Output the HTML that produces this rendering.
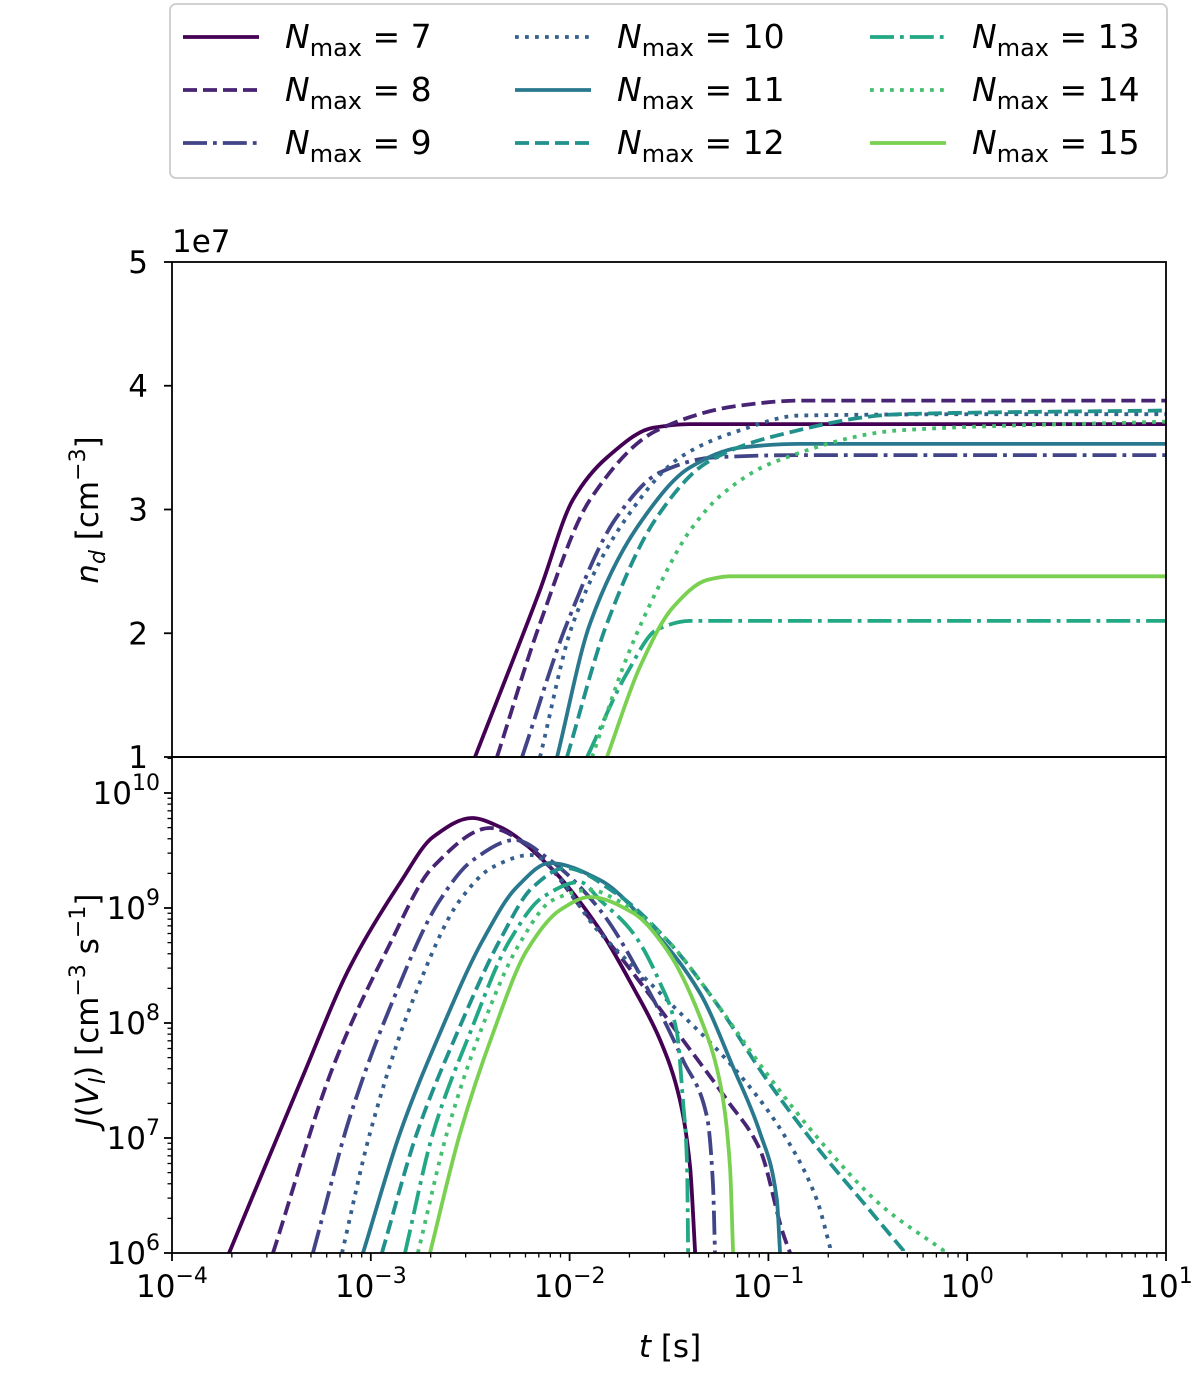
<!DOCTYPE html>
<html><head><meta charset="utf-8"><style>
body{margin:0;background:#fff;}
svg text{font-family:"DejaVu Sans","Liberation Sans",sans-serif;fill:#000;}
</style></head><body>
<svg id="chart" width="1200" height="1368" xmlns="http://www.w3.org/2000/svg"></svg>
<script>
// ---- data ----
const seriesNames = ['7','8','9','10','11','12','13','14','15'];
const seriesColors = ['#440154','#482475','#414487','#355f8d','#2a788e','#21918c','#22a884','#44bf70','#7ad151'];
const seriesStyles = ['solid','dashed','dashdot','dotted','solid','dashed','dashdot','dotted','solid'];
// top panel: log10(t) and n_d (units of 1e7)
const ndLogT = [
 [-2.476,-2.149,-1.983,-1.812,-1.580,-1.394,1.0],
 [-2.365,-2.149,-1.897,-1.560,-1.143,-0.841,1.0],
 [-2.239,-2.013,-1.762,-1.545,-1.279,-0.841,1.0],
 [-2.149,-1.983,-1.711,-1.445,-1.143,-0.841,0.165,1.0],
 [-2.063,-1.897,-1.646,-1.394,-1.143,-0.841,1.0],
 [-2.013,-1.812,-1.560,-1.309,-0.977,-0.338,1.0],
 [-1.912,-1.711,-1.560,-1.394,1.0],
 [-1.887,-1.711,-1.560,-1.394,-1.228,-0.977,-0.338,1.0],
 [-1.812,-1.646,-1.480,-1.309,-1.193,1.0]
];
const ndValues = [
 [1,2.35,3.08,3.42,3.66,3.69,3.69],
 [1,2.08,3.08,3.64,3.84,3.88,3.88],
 [1,2.08,2.94,3.30,3.42,3.44,3.44],
 [1,2.08,2.94,3.42,3.64,3.76,3.77,3.77],
 [1,2.08,2.89,3.34,3.50,3.53,3.53],
 [1,2.08,2.94,3.38,3.59,3.77,3.80],
 [1,1.68,2.03,2.10,2.10],
 [1,1.81,2.35,2.83,3.13,3.38,3.64,3.71],
 [1,1.73,2.21,2.43,2.46,2.46]
];
// bottom panel: log10(t) and log10(J)
const jLogT = [
 [-3.713,-3.356,-3.105,-2.853,-2.687,-2.491,-2.350,-2.099,-1.847,-1.681,-1.545,-1.445,-1.394,-1.369],
 [-3.492,-3.190,-2.919,-2.687,-2.400,-2.184,-1.933,-1.681,-1.430,-1.208,-1.042,-0.927,-0.891],
 [-3.291,-3.105,-2.888,-2.652,-2.486,-2.275,-2.099,-1.847,-1.596,-1.430,-1.309,-1.279,-1.269],
 [-3.145,-3.004,-2.788,-2.551,-2.385,-2.199,-1.847,-1.510,-1.178,-0.927,-0.756,-0.690],
 [-3.039,-2.853,-2.652,-2.436,-2.265,-2.099,-1.847,-1.596,-1.344,-1.178,-1.042,-0.957,-0.942],
 [-2.944,-2.768,-2.566,-2.350,-2.184,-2.023,-1.762,-1.510,-1.259,-1.007,-0.756,-0.504,-0.323],
 [-2.828,-2.687,-2.501,-2.300,-2.134,-1.948,-1.847,-1.681,-1.545,-1.460,-1.430,-1.409,-1.404],
 [-2.763,-2.617,-2.451,-2.250,-2.084,-1.897,-1.762,-1.510,-1.259,-1.007,-0.756,-0.423,-0.122],
 [-2.702,-2.551,-2.385,-2.214,-2.048,-1.897,-1.681,-1.510,-1.344,-1.243,-1.193,-1.178]
];
const jLogValues = [
 [6.0,7.478,8.487,9.217,9.617,9.783,9.704,9.357,8.809,8.313,7.852,7.330,6.748,6.026],
 [6.0,7.617,8.635,9.357,9.696,9.504,8.983,8.435,7.852,7.330,6.896,6.174,6.0],
 [6.0,7.183,8.2,9.070,9.417,9.591,9.417,8.983,8.261,7.678,7.183,6.609,6.026],
 [6.0,7.043,8.2,9.070,9.357,9.461,8.783,8.2,7.617,7.043,6.461,6.052],
 [6.0,7.043,7.913,8.722,9.183,9.391,9.243,8.835,8.261,7.617,7.043,6.461,6.026],
 [6.0,7.043,7.913,8.722,9.183,9.348,9.122,8.722,8.165,7.504,6.922,6.400,6.026],
 [6.0,7.043,7.913,8.722,9.096,9.226,9.070,8.783,8.348,7.913,7.330,6.748,6.026],
 [6.0,7.043,7.913,8.696,9.070,9.157,9.070,8.722,8.165,7.557,7.009,6.400,6.026],
 [6.0,7.043,7.913,8.635,8.983,9.096,8.957,8.635,8.052,7.478,6.748,6.026]
];
const xTickExps = ['−4','−3','−2','−1','0','1'];
const ndTicks = [1,2,3,4,5];
const jTickExps = ['6','7','8','9','10'];

// ---- axes ----
const X0=172, X1=1166, XMIN=-4, XMAX=1;
const TOP0=262, MID=757, BOT=1253;
const xs = lt => X0 + (lt-XMIN)/(XMAX-XMIN)*(X1-X0);
const yTop = v => MID - (v-1)/4*(MID-TOP0);
const JMIN=6, DEC=115;
const yBot = lv => BOT - (lv-JMIN)*DEC;
const NS='http://www.w3.org/2000/svg';
const svg=document.getElementById('chart');
function mk(tag, attrs, parent){const e=document.createElementNS(NS,tag);for(const k in attrs)e.setAttribute(k,attrs[k]);(parent||svg).appendChild(e);return e;}
const defs=mk('defs',{});
const c1=mk('clipPath',{id:'clipTop'},defs);mk('rect',{x:X0,y:TOP0,width:X1-X0,height:MID-TOP0},c1);
const c2=mk('clipPath',{id:'clipBot'},defs);mk('rect',{x:X0,y:MID,width:X1-X0,height:BOT-MID},c2);

const LW=3.8;
function dash(s){return s==='dashed'?'14,6':s==='dotted'?'3.8,6.2':s==='dashdot'?'24,6,3.8,6':'none';}
// monotone cubic (Fritsch-Carlson) in pixel space
function pathD(pts){
  const n=pts.length;
  const dx=[],m=[];
  for(let i=0;i<n-1;i++){dx.push(pts[i+1][0]-pts[i][0]);m.push((pts[i+1][1]-pts[i][1])/dx[i]);}
  const t=new Array(n);
  t[0]=m[0];t[n-1]=m[n-2];
  for(let i=1;i<n-1;i++){
    if(m[i-1]*m[i]<=0)t[i]=0;
    else{const w1=2*dx[i]+dx[i-1],w2=dx[i]+2*dx[i-1];t[i]=(w1+w2)/(w1/m[i-1]+w2/m[i]);}
  }
  let d='M'+pts[0][0].toFixed(1)+','+pts[0][1].toFixed(1);
  for(let i=0;i<n-1;i++){
    const h=dx[i]/3;
    d+=' C'+(pts[i][0]+h).toFixed(1)+','+(pts[i][1]+t[i]*h).toFixed(1)+' '+(pts[i+1][0]-h).toFixed(1)+','+(pts[i+1][1]-t[i+1]*h).toFixed(1)+' '+pts[i+1][0].toFixed(1)+','+pts[i+1][1].toFixed(1);
  }
  return d;
}
const gTop=mk('g',{'clip-path':'url(#clipTop)'});


const gBot=mk('g',{'clip-path':'url(#clipBot)'});


for(let s=0;s<seriesNames.length;s++){
  const p1=ndLogT[s].map((lt,i)=>[xs(lt),yTop(ndValues[s][i])]);
  const a=mk('path',{d:pathD(p1),fill:'none',stroke:seriesColors[s],'stroke-width':LW,'stroke-dasharray':dash(seriesStyles[s])},gTop);
  
  
  const p2=jLogT[s].map((lt,i)=>[xs(lt),yBot(jLogValues[s][i])]);
  const last=p2[p2.length-1];
  const b=mk('path',{d:pathD(p2)+' L'+(last[0]+0.5).toFixed(1)+','+(BOT+20),fill:'none',stroke:seriesColors[s],'stroke-width':LW,'stroke-dasharray':dash(seriesStyles[s])},gBot);
  
  
}
// frames
const f1=mk('rect',{x:X0,y:TOP0,width:X1-X0,height:MID-TOP0,fill:'none',stroke:'#000','stroke-width':1.8});


const f2=mk('rect',{x:X0,y:MID,width:X1-X0,height:BOT-MID,fill:'none',stroke:'#000','stroke-width':1.8});



// x ticks (bottom)
for(let i=0;i<xTickExps.length;i++){
  const x=xs(XMIN+i);
  mk('line',{x1:x,y1:BOT,x2:x,y2:BOT+8,stroke:'#000','stroke-width':1.8});
  const t=mk('text',{x:x,y:BOT+44,'font-size':31,'text-anchor':'middle'});
  
  
  t.innerHTML='10<tspan dy="-14" font-size="22">'+xTickExps[i]+'</tspan>';
  if(i<xTickExps.length-1){for(let m=2;m<10;m++){const xm=xs(XMIN+i+Math.log10(m));mk('line',{x1:xm,y1:BOT,x2:xm,y2:BOT+4.5,stroke:'#000','stroke-width':1.3});}}
}
// top y ticks
ndTicks.forEach(v=>{
  const y=yTop(v);
  mk('line',{x1:X0-8,y1:y,x2:X0,y2:y,stroke:'#000','stroke-width':1.8});
  const t=mk('text',{x:X0-24,y:y+11,'font-size':31,'text-anchor':'end'});
  
  
  t.textContent=v;
});
const off=mk('text',{x:X0,y:TOP0-10,'font-size':31});


off.textContent='1e7';
// bottom y ticks
jTickExps.forEach((e,i)=>{
  const y=yBot(JMIN+i);
  mk('line',{x1:X0-8,y1:y,x2:X0,y2:y,stroke:'#000','stroke-width':1.8});
  const t=mk('text',{x:X0-12,y:y+11,'font-size':31,'text-anchor':'end'});
  
  
  t.innerHTML='10<tspan dy="-14" font-size="22">'+e+'</tspan>';
});
for(let d=6;d<=10;d++){for(let m=2;m<10;m++){const y=yBot(d+Math.log10(m));if(y>MID){mk('line',{x1:X0-4.5,y1:y,x2:X0,y2:y,stroke:'#000','stroke-width':1.3});}}}

// axis titles
const yl1=mk('text',{x:0,y:0,'font-size':31,'text-anchor':'middle',transform:'translate(98,510) rotate(-90)'});


yl1.innerHTML='<tspan font-style="italic">n</tspan><tspan font-style="italic" font-size="22" dy="7">d</tspan><tspan dy="-7"> [cm</tspan><tspan font-size="22" dy="-13">−3</tspan><tspan dy="13">]</tspan>';
const yl2=mk('text',{x:0,y:0,'font-size':31,'text-anchor':'middle',transform:'translate(98,1010) rotate(-90)'});


yl2.innerHTML='<tspan font-style="italic">J</tspan>(<tspan font-style="italic">V</tspan><tspan font-style="italic" font-size="22" dy="7">l</tspan><tspan dy="-7">) [cm</tspan><tspan font-size="22" dy="-13">−3</tspan><tspan dy="13"> s</tspan><tspan font-size="22" dy="-13">−1</tspan><tspan dy="13">]</tspan>';
const xl=mk('text',{x:670,y:1357,'font-size':31,'text-anchor':'middle'});


xl.innerHTML='<tspan font-style="italic">t</tspan> [s]';

// legend
const lg=mk('g',{});


mk('rect',{x:170,y:4,width:997,height:174,rx:6,fill:'#fff',stroke:'#cccccc','stroke-width':1.8},lg);
const colX=[183,515,870];
for(let s=0;s<seriesNames.length;s++){
  const c=Math.floor(s/3), r=s%3;
  const y=37+r*53, x=colX[c];
  const e=mk('g',{},lg);
  
  
  mk('line',{x1:x,y1:y,x2:x+76,y2:y,stroke:seriesColors[s],'stroke-width':LW,'stroke-dasharray':dash(seriesStyles[s])},e);
  const t=mk('text',{x:x+102,y:y+11,'font-size':33},e);
  t.innerHTML='<tspan font-style="italic">N</tspan><tspan font-size="24" dy="8">max</tspan><tspan dy="-8"> = '+seriesNames[s]+'</tspan>';
}
</script>
</body></html>
